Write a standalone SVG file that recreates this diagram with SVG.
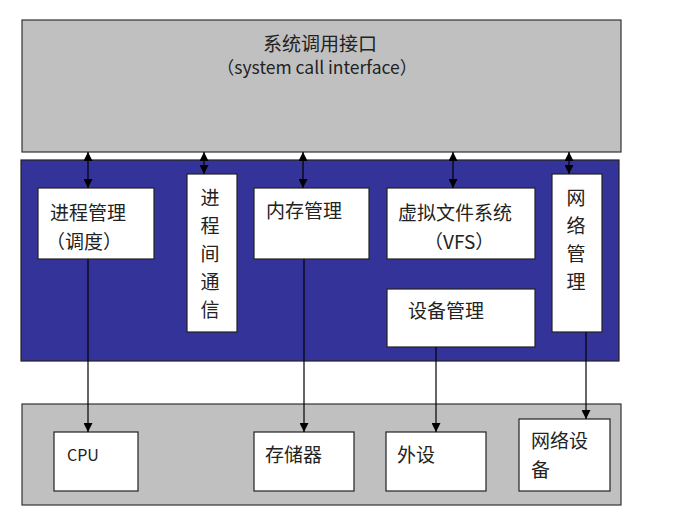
<svg xmlns="http://www.w3.org/2000/svg" width="687" height="511" viewBox="0 0 687 511">
<defs>
<marker id="ah" viewBox="0 0 10 10" refX="10" refY="5" markerWidth="9" markerHeight="9" markerUnits="userSpaceOnUse" orient="auto-start-reverse">
<path d="M0,0 L10,5 L0,10 z" fill="#000"/>
</marker>
</defs>
<style>
.gray{fill:#c0c0c0;stroke:#333;stroke-width:1.2}
.blue{fill:#333399;stroke:#222;stroke-width:1.2}
.box{fill:#fff;stroke:#222;stroke-width:1.2}
text{font-family:"Noto Sans CJK SC","Noto Sans",sans-serif;font-size:19px;fill:#222}
.c{text-anchor:middle}
.ln{stroke:#000;stroke-width:1.2;fill:none}
.bi{marker-start:url(#ah);marker-end:url(#ah)}
.one{marker-end:url(#ah)}
</style>
<rect width="687" height="511" fill="#fff"/>
<g id="syscall">
<rect class="gray" x="22" y="20" width="599" height="132"/>
<text class="c" x="320" y="51">系统调用接口</text>
<text class="c" x="317" y="74" style="font-size:17.5px">（system call interface）</text>
</g>
<g id="kernel">
<rect class="blue" x="21" y="160" width="598" height="201"/>
</g>
<g id="proc">
<rect class="box" x="38" y="188" width="116" height="71"/>
<text x="50" y="220">进程管理</text>
<text x="46" y="249">（调度）</text>
</g>
<g id="ipc">
<rect class="box" x="187" y="174" width="50" height="158"/>
<text class="c" x="210" y="205">进</text>
<text class="c" x="210" y="233">程</text>
<text class="c" x="210" y="261">间</text>
<text class="c" x="210" y="289">通</text>
<text class="c" x="210" y="317">信</text>
</g>
<g id="mem">
<rect class="box" x="254" y="188" width="115" height="71"/>
<text x="266" y="218">内存管理</text>
</g>
<g id="vfs">
<rect class="box" x="387" y="188" width="148" height="71"/>
<text x="398" y="220">虚拟文件系统</text>
<text x="424" y="249">（VFS）</text>
</g>
<g id="dev">
<rect class="box" x="387" y="289" width="148" height="58"/>
<text x="408" y="318">设备管理</text>
</g>
<g id="net">
<rect class="box" x="552" y="174" width="50" height="158"/>
<text class="c" x="576" y="205">网</text>
<text class="c" x="576" y="233">络</text>
<text class="c" x="576" y="261">管</text>
<text class="c" x="576" y="289">理</text>
</g>
<g id="hw">
<rect class="gray" x="22" y="404" width="599" height="101"/>
</g>
<g id="cpu">
<rect class="box" x="54" y="432" width="84" height="59"/>
<text x="67" y="461" style="font-size:16px">CPU</text>
</g>
<g id="storage">
<rect class="box" x="254" y="432" width="100" height="59"/>
<text x="265" y="462">存储器</text>
</g>
<g id="periph">
<rect class="box" x="386" y="432" width="100" height="59"/>
<text x="397" y="462">外设</text>
</g>
<g id="netdev">
<rect class="box" x="519" y="419" width="91" height="72"/>
<text x="531" y="448">网络设</text>
<text x="531" y="477">备</text>
</g>
<g id="connectors">
<line class="ln bi" x1="88" y1="152" x2="88" y2="188"/>
<line class="ln bi" x1="204" y1="152" x2="204" y2="174"/>
<line class="ln bi" x1="303" y1="152" x2="303" y2="188"/>
<line class="ln bi" x1="453" y1="152" x2="453" y2="188"/>
<line class="ln bi" x1="569" y1="152" x2="569" y2="174"/>
<line class="ln one" x1="88" y1="259" x2="88" y2="432"/>
<line class="ln one" x1="304" y1="259" x2="304" y2="432"/>
<line class="ln one" x1="436" y1="347" x2="436" y2="432"/>
<line class="ln one" x1="586" y1="332" x2="586" y2="419"/>
</g>
</svg>
